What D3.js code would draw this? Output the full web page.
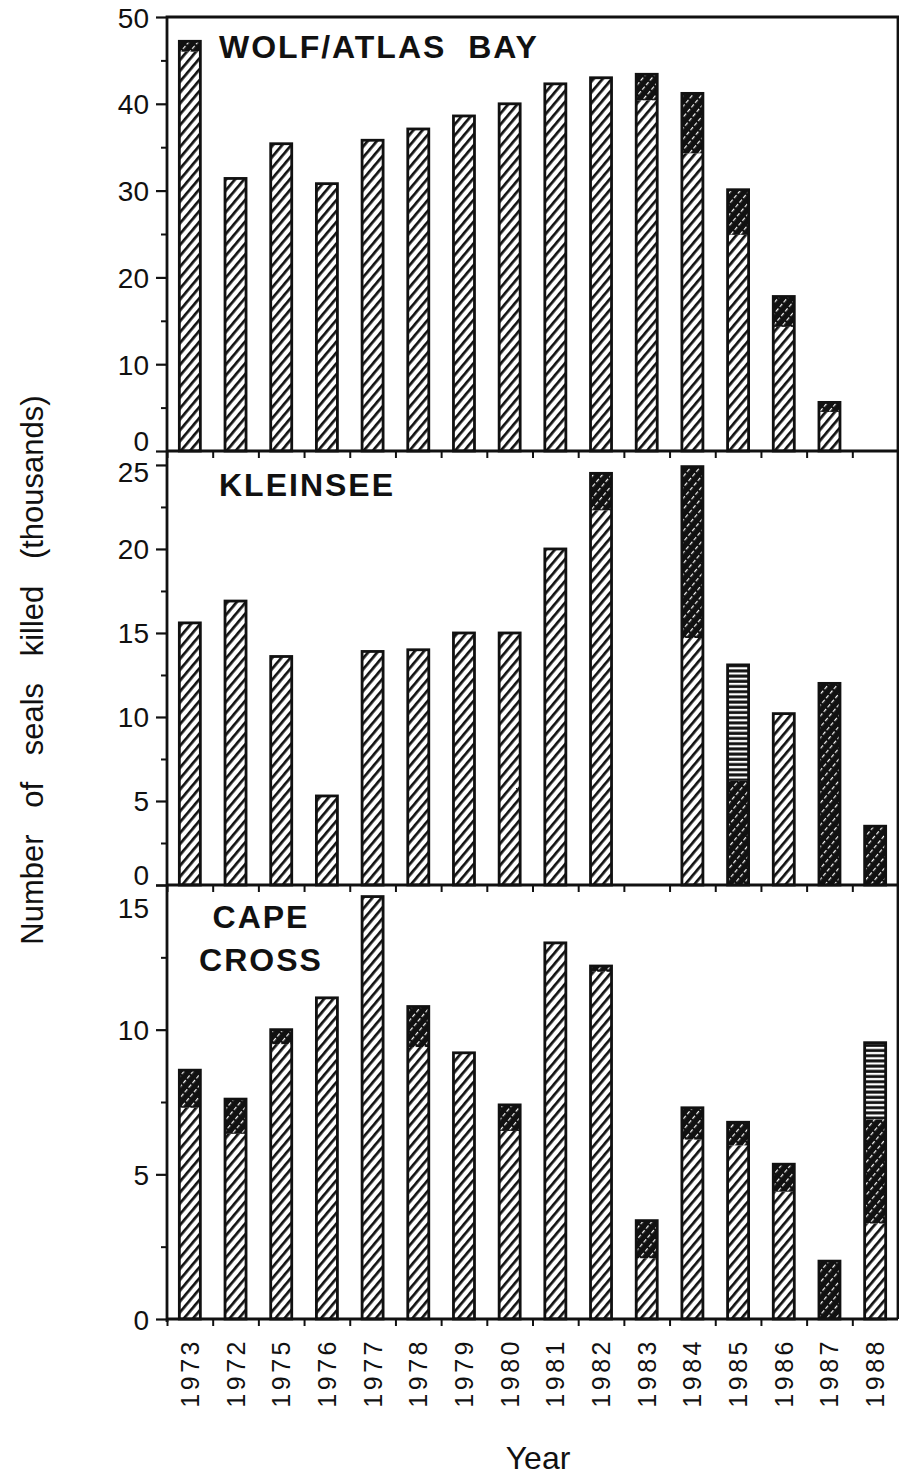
<!DOCTYPE html>
<html lang="en">
    <head>
        <meta charset="utf-8">
        <title>Seals killed</title>
        <script type="text/javascript" src="https://d3js.org/d3.v7.min.js"></script>
        <style>
            body { margin: 0; background: #fff; }
            text { font-family: "Liberation Sans", Arial, sans-serif; fill: #111; }
        </style>
    </head>
    <body>
        <script>
        // years in the order printed on the original axis
        const years = ["1973","1972","1975","1976","1977","1978","1979","1980",
                       "1981","1982","1983","1984","1985","1986","1987","1988"];

        // thousands of seals
        const wolfLight = [46.0, 31.4, 35.4, 30.8, 35.8, 37.1, 38.6, 40.0, 42.3, 43.0, 40.4, 34.3, 24.9, 14.3, 4.5, 0];
        const wolfDark  = [1.2, 0, 0, 0, 0, 0, 0, 0, 0, 0, 3.0, 6.9, 5.2, 3.5, 1.1, 0];
        const wolfStriped = [0, 0, 0, 0, 0, 0, 0, 0, 0, 0, 0, 0, 0, 0, 0, 0];

        const kleinLight = [15.6, 16.9, 13.6, 5.3, 13.9, 14.0, 15.0, 15.0, 20.0, 22.3, 0, 14.7, 0, 10.2, 0, 0];
        const kleinDark  = [0, 0, 0, 0, 0, 0, 0, 0, 0, 2.2, 0, 10.2, 6.2, 0, 12.0, 3.5];
        const kleinStriped = [0, 0, 0, 0, 0, 0, 0, 0, 0, 0, 0, 0, 6.9, 0, 0, 0];

        const capeLight = [7.3, 6.4, 9.5, 11.1, 14.6, 9.4, 9.2, 6.5, 13.0, 12.0, 2.1, 6.2, 6.0, 4.4, 0, 3.3];
        const capeDark  = [1.3, 1.2, 0.5, 0, 0, 1.4, 0, 0.9, 0, 0.2, 1.3, 1.1, 0.8, 0.95, 2.0, 3.6];
        const capeStriped = [0, 0, 0, 0, 0, 0, 0, 0, 0, 0, 0, 0, 0, 0, 0, 2.65];

        const wolfTicks = [0, 10, 20, 30, 40, 50];
        const wolfMinor = [5, 15, 25, 35, 45];
        const kleinTicks = [0, 5, 10, 15, 20, 25];
        const kleinMinor = [2.5, 7.5, 12.5, 17.5, 22.5];
        const capeTicks = [0, 5, 10, 15];
        const capeMinor = [2.5, 7.5, 12.5];

        const keys = ["light", "dark", "striped"];

        const left = 167, right = 898;

        const panels = [
            {title: ["WOLF/ATLAS  BAY"], light: wolfLight, dark: wolfDark, striped: wolfStriped,
             max: 50, top: 17, bottom: 451, ticks: wolfTicks, minor: wolfMinor,
             nudge: {0: -11}, titleX: 219, titleY: 58, anchor: "start"},
            {title: ["KLEINSEE"], light: kleinLight, dark: kleinDark, striped: kleinStriped,
             max: 25.83, top: 451, bottom: 885, ticks: kleinTicks, minor: kleinMinor,
             nudge: {0: -11, 25: 7}, titleX: 219, titleY: 496, anchor: "start"},
            {title: ["CAPE", "CROSS"], light: capeLight, dark: capeDark, striped: capeStriped,
             max: 15, top: 885, bottom: 1319, ticks: capeTicks, minor: capeMinor,
             nudge: {15: 22}, titleX: 261, titleY: 928, anchor: "middle"}
        ];

        const svg = d3.select("body")
            .append("svg")
                .attr("width", 899)
                .attr("height", 1475)
                .style("background-color", "#FFFFFF");

        // fill patterns
        const defs = svg.append("defs");

        const pLight = defs.append("pattern")
            .attr("id", "hatchLight")
            .attr("patternUnits", "userSpaceOnUse")
            .attr("width", 7).attr("height", 7)
            .attr("patternTransform", "rotate(40)");
        pLight.append("rect").attr("width", 7).attr("height", 7).attr("fill", "#fff");
        pLight.append("rect").attr("width", 2.7).attr("height", 7).attr("fill", "#111");

        const pDark = defs.append("pattern")
            .attr("id", "hatchDark")
            .attr("patternUnits", "userSpaceOnUse")
            .attr("width", 7).attr("height", 6)
            .attr("patternTransform", "rotate(40)");
        pDark.append("rect").attr("width", 7).attr("height", 6).attr("fill", "#111");
        pDark.append("rect").attr("x", 3).attr("width", 1.2).attr("height", 3.8).attr("fill", "#fff");

        const pStriped = defs.append("pattern")
            .attr("id", "hatchStriped")
            .attr("patternUnits", "userSpaceOnUse")
            .attr("width", 10).attr("height", 5.2);
        pStriped.append("rect").attr("width", 10).attr("height", 5.2).attr("fill", "#111");
        pStriped.append("rect").attr("y", 1.6).attr("width", 10).attr("height", 2.2).attr("fill", "#fff");

        const fills = {light: "url(#hatchLight)", dark: "url(#hatchDark)", striped: "url(#hatchStriped)"};

        // X scale
        const x = d3.scaleBand()
            .domain(years)
            .range([left, right])
            .paddingInner(0.54)
            .paddingOuter(0.27);

        // edges between the bars, for the small ticks
        const edge = d3.scaleLinear().domain([0, years.length]).range([left, right]);

        panels.forEach(function(p) {
            const y = d3.scaleLinear().domain([0, p.max]).range([p.bottom, p.top]);

            const rows = years.map(function(yr, i) {
                return {year: yr, light: p.light[i], dark: p.dark[i], striped: p.striped[i]};
            });
            const series = d3.stack().keys(keys)(rows);

            const g = svg.append("g");

            // stacked segments
            g.selectAll("g.layer")
                .data(series)
                .join("g")
                .attr("class", "layer")
                .attr("fill", function(d) { return fills[d.key]; })
                .selectAll("rect")
                .data(function(d) { return d; })
                .join("rect")
                .attr("x", function(d) { return x(d.data.year); })
                .attr("y", function(d) { return y(d[1]); })
                .attr("width", x.bandwidth())
                .attr("height", function(d) { return y(d[0]) - y(d[1]); });

            // outline around each whole bar
            g.selectAll("rect.outline")
                .data(rows.filter(function(d) { return d.light + d.dark + d.striped > 0; }))
                .join("rect")
                .attr("class", "outline")
                .attr("x", function(d) { return x(d.year); })
                .attr("y", function(d) { return y(d.light + d.dark + d.striped); })
                .attr("width", x.bandwidth())
                .attr("height", function(d) { return y(0) - y(d.light + d.dark + d.striped); })
                .attr("fill", "none")
                .attr("stroke", "#111")
                .attr("stroke-width", 2.8);

            // Y axis, major ticks
            const yaxis = g.append("g")
                .attr("transform", `translate(${left}, 0)`)
                .call(d3.axisLeft(y).tickValues(p.ticks).tickSize(11).tickPadding(7));
            yaxis.select(".domain").remove();
            yaxis.selectAll("line").attr("stroke", "#111").attr("stroke-width", 2.2);
            yaxis.selectAll("text")
                .attr("font-size", "28px")
                .attr("font-family", "Liberation Sans, Arial, sans-serif")
                .attr("fill", "#111")
                .attr("dy", function(d) { return (p.nudge[d] || 0) + 10 + "px"; });

            // minor ticks
            const ymin = g.append("g")
                .attr("transform", `translate(${left}, 0)`)
                .call(d3.axisLeft(y).tickValues(p.minor).tickSize(6).tickFormat(""));
            ymin.select(".domain").remove();
            ymin.selectAll("line").attr("stroke", "#111").attr("stroke-width", 2);

            // little ticks under the baseline between bars
            const xt = g.append("g")
                .attr("transform", `translate(0, ${p.bottom})`)
                .call(d3.axisBottom(edge).tickValues(d3.range(0, years.length)).tickSize(7).tickFormat(""));
            xt.select(".domain").remove();
            xt.selectAll("line").attr("stroke", "#111").attr("stroke-width", 2);

            // baseline
            g.append("line")
                .attr("x1", left).attr("x2", right)
                .attr("y1", p.bottom).attr("y2", p.bottom)
                .attr("stroke", "#111").attr("stroke-width", 2.8);

            // panel title
            const t = g.append("text")
                .attr("x", p.titleX)
                .attr("y", p.titleY)
                .attr("text-anchor", p.anchor)
                .attr("font-size", "32px")
                .attr("font-weight", 700)
                .attr("letter-spacing", "2px")
                .style("white-space", "pre");
            p.title.forEach(function(line, i) {
                t.append("tspan")
                    .attr("x", p.titleX)
                    .attr("dy", i === 0 ? 0 : 43)
                    .text(line);
            });
        });

        // frame: top, left, right
        svg.append("path")
            .attr("d", `M${left},1322 V17 H${right} V1319`)
            .attr("fill", "none")
            .attr("stroke", "#111")
            .attr("stroke-width", 2.8);

        // year labels, rotated
        svg.selectAll("text.year")
            .data(years)
            .join("text")
            .attr("class", "year")
            .attr("transform", function(d) {
                return `translate(${x(d) + x.bandwidth() / 2}, 1338) rotate(-90)`;
            })
            .attr("text-anchor", "end")
            .attr("dominant-baseline", "central")
            .attr("font-size", "25px")
            .attr("letter-spacing", "3.5px")
            .text(function(d) { return d; });

        // axis titles
        svg.append("text")
            .attr("x", 538)
            .attr("y", 1469)
            .attr("text-anchor", "middle")
            .attr("font-size", "32px")
            .text("Year");

        svg.append("text")
            .attr("transform", "translate(43, 670) rotate(-90)")
            .attr("text-anchor", "middle")
            .attr("font-size", "31px")
            .attr("word-spacing", "18px")
            .text("Number of seals killed (thousands)");
        </script>
    </body>
</html>
